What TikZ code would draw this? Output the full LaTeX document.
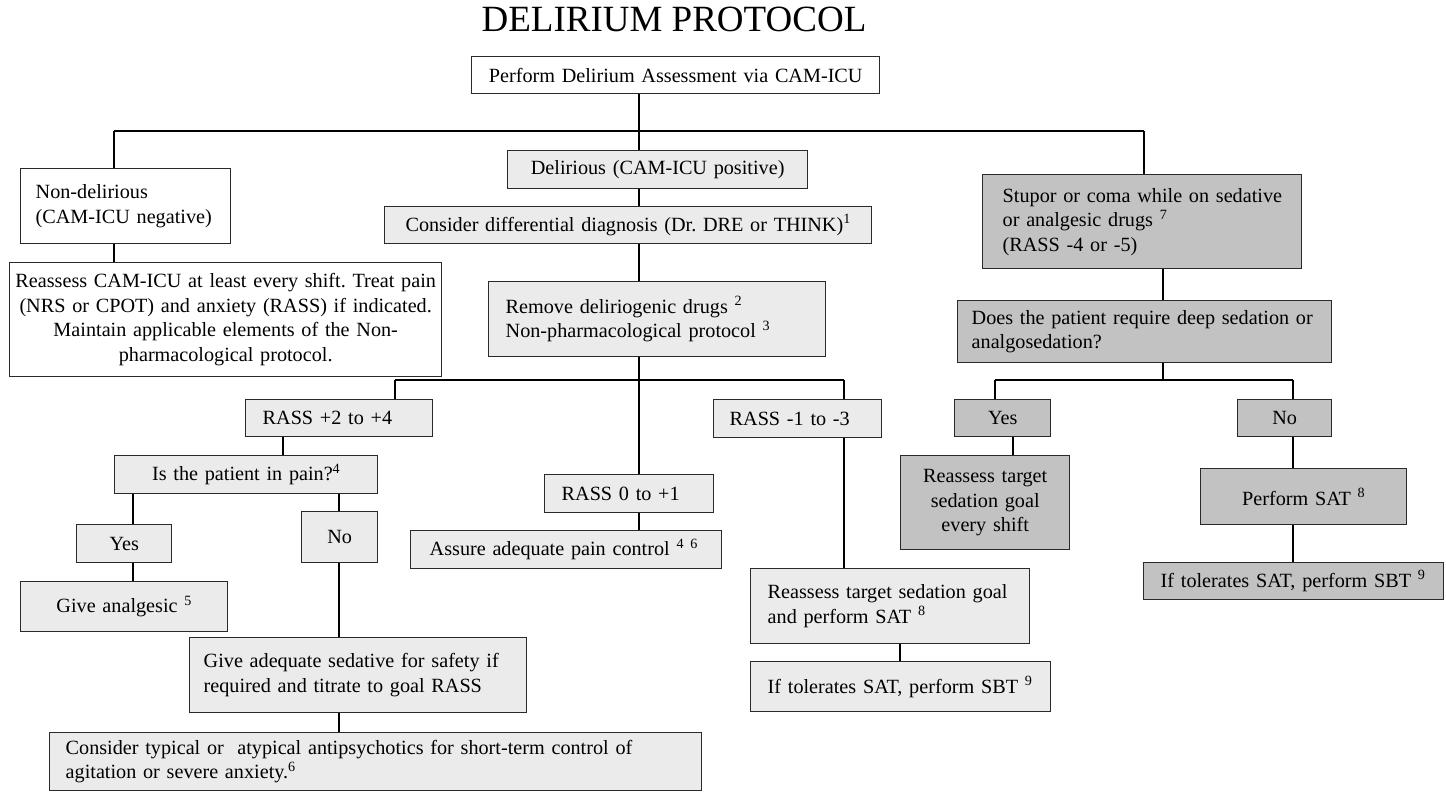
\documentclass[tikz,border=0pt]{standalone}
\usepackage{fontspec}
\setmainfont{Liberation Serif}
\definecolor{lightfill}{HTML}{EBEBEB}
\definecolor{darkfill}{HTML}{C2C2C2}
\definecolor{edgecol}{HTML}{2A2A2A}
\newcommand\fnm[1]{\textsuperscript{#1}}
\frenchspacing
\begin{document}
\begin{tikzpicture}[x=1pt,y=-1pt,
  box/.style={draw=edgecol, line width=1.4pt, anchor=north west, inner sep=0pt, font=\fontsize{20.2}{24.5}\selectfont},
  wbox/.style={box, fill=white},
  lbox/.style={box, fill=lightfill},
  dbox/.style={box, fill=darkfill},
  sz/.style 2 args={text width=#1, minimum height=#2},
  ctr/.style={align=center},
  lft/.style={align=left, execute at begin node={\leftskip=#1\relax}},
  conn/.style={draw=black, line width=1.1pt}
]
\useasboundingbox (0,0) rectangle (1446,792);

\node[font=\fontsize{37}{40}\selectfont, anchor=base] (T) at (674,32) {DELIRIUM PROTOCOL};

\node[wbox, sz={408pt}{37pt}, ctr] (A) at (471,56) {Perform Delirium Assessment via CAM-ICU};
\node[wbox, sz={210pt}{75pt}, lft=15pt] (ND) at (20,168) {Non-delirious\\(CAM-ICU negative)};
\node[wbox, sz={432pt}{114pt}, ctr] (RC) at (9,262) {Reassess CAM-ICU at least every shift. Treat pain\\(NRS or CPOT) and anxiety (RASS) if indicated.\\Maintain applicable elements of the Non-\\pharmacological protocol.};

\node[lbox, sz={300pt}{38pt}, ctr] (DL) at (507,150) {Delirious (CAM-ICU positive)};
\node[lbox, sz={487pt}{37pt}, ctr] (DD) at (384,206) {Consider differential diagnosis (Dr. DRE or THINK)\fnm{1}};
\node[lbox, sz={337pt}{75pt}, lft=17pt] (RM) at (488,281) {Remove deliriogenic drugs \fnm{2}\\Non-pharmacological protocol \fnm{3}};
\node[lbox, sz={187pt}{37pt}, lft=17pt] (R24) at (245,399) {RASS +2 to +4};
\node[lbox, sz={263pt}{38pt}, ctr] (PAIN) at (114,455) {Is the patient in pain?\fnm{4}};
\node[lbox, sz={95pt}{38pt}, ctr] (Y1) at (76,524) {Yes};
\node[lbox, sz={76pt}{51pt}, ctr] (N1) at (301,511) {No};
\node[lbox, sz={207pt}{50pt}, ctr] (GA) at (20,581) {Give analgesic \fnm{5}};
\node[lbox, sz={337pt}{75pt}, lft=14pt] (GS) at (189,637) {Give adequate sedative for safety if\\required and titrate to goal RASS};
\node[lbox, sz={652pt}{58pt}, lft=16pt] (CT) at (49,732) {Consider typical or~ atypical antipsychotics for short-term control of\\agitation or severe anxiety.\fnm{6}};
\node[lbox, sz={169pt}{38pt}, lft=17pt] (R01) at (544,474) {RASS 0 to +1};
\node[lbox, sz={311pt}{38pt}, lft=19pt] (AP) at (410,530) {Assure adequate pain control \fnm{4 6}};
\node[lbox, sz={168pt}{38pt}, lft=16pt] (R13) at (713,399) {RASS -1 to -3};
\node[lbox, sz={279pt}{75pt}, lft=17pt] (RT) at (750,568) {Reassess target sedation goal\\and perform SAT \fnm{8}};
\node[lbox, sz={300pt}{50pt}, lft=17pt] (TS1) at (750,661) {If tolerates SAT, perform SBT \fnm{9}};

\node[dbox, sz={319pt}{94pt}, lft=20pt] (ST) at (982,174) {Stupor or coma while on sedative\\or analgesic drugs \fnm{7}\\(RASS -4 or -5)};
\node[dbox, sz={374pt}{62pt}, lft=14pt] (DS) at (957,300) {Does the patient require deep sedation or\\analgosedation?};
\node[dbox, sz={96pt}{37pt}, ctr] (Y2) at (954,399) {Yes};
\node[dbox, sz={94pt}{37pt}, ctr] (N2) at (1237,399) {No};
\node[dbox, sz={169pt}{94pt}, ctr] (RS) at (900,455) {Reassess target\\sedation goal\\every shift};
\node[dbox, sz={206pt}{56pt}, ctr] (PS) at (1200,468) {Perform SAT \fnm{8}};
\node[dbox, sz={300pt}{37pt}, lft=17pt] (TS2) at (1143,562) {If tolerates SAT, perform SBT \fnm{9}};

\coordinate (jL) at (114,131);
\coordinate (jC) at (639,131);
\coordinate (jR) at (1144,131);
\coordinate (kL) at (395,380);
\coordinate (kR) at (844,380);
\coordinate (mL) at (995,380);
\coordinate (mC) at (1163,380);
\coordinate (mR) at (1293,380);
\coordinate (xP) at (283,0);
\coordinate (xY) at (133,0);
\coordinate (xN) at (339,0);
\coordinate (xT) at (900,0);
\coordinate (xY2) at (1013,0);

\draw[conn] (A.south -| jC) -- (jC);
\draw[conn] (jL) -- (jR);
\draw[conn] (jL) -- (jL |- ND.north);
\draw[conn] (jC) -- (jC |- DL.north);
\draw[conn] (jR) -- (jR |- ST.north);
\draw[conn] (jL |- ND.south) -- (jL |- RC.north);
\draw[conn] (jC |- DL.south) -- (jC |- DD.north);
\draw[conn] (jC |- DD.south) -- (jC |- RM.north);
\draw[conn] (jC |- RM.south) -- (jC |- R01.north);
\draw[conn] (kL) -- (kR);
\draw[conn] (kL) -- (kL |- R24.north);
\draw[conn] (kR) -- (kR |- R13.north);
\draw[conn] (xP |- R24.south) -- (xP |- PAIN.north);
\draw[conn] (xY |- PAIN.south) -- (xY |- Y1.north);
\draw[conn] (xN |- PAIN.south) -- (xN |- N1.north);
\draw[conn] (xY |- Y1.south) -- (xY |- GA.north);
\draw[conn] (xN |- N1.south) -- (xN |- GS.north);
\draw[conn] (xN |- GS.south) -- (xN |- CT.north);
\draw[conn] (jC |- R01.south) -- (jC |- AP.north);
\draw[conn] (kR |- R13.south) -- (kR |- RT.north);
\draw[conn] (xT |- RT.south) -- (xT |- TS1.north);
\draw[conn] (mC |- ST.south) -- (mC |- DS.north);
\draw[conn] (mC |- DS.south) -- (mC);
\draw[conn] (mL) -- (mR);
\draw[conn] (mL) -- (mL |- Y2.north);
\draw[conn] (mR) -- (mR |- N2.north);
\draw[conn] (xY2 |- Y2.south) -- (xY2 |- RS.north);
\draw[conn] (mR |- N2.south) -- (mR |- PS.north);
\draw[conn] (mR |- PS.south) -- (mR |- TS2.north);
\end{tikzpicture}
\end{document}
